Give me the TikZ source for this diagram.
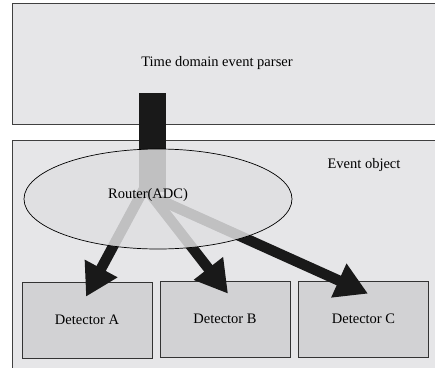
\documentclass[tikz,border=0pt]{standalone}
\usepackage{fontspec}
\setmainfont{Liberation Serif}
\usetikzlibrary{arrows.meta,calc}
\definecolor{bgbox}{RGB}{230,230,232}
\definecolor{detfill}{RGB}{210,210,212}
\definecolor{ellfill}{RGB}{224,224,226}
\tikzset{
  panel/.style={draw=black!75, line width=0.8pt, fill=bgbox, inner sep=0pt},
  detbox/.style={draw=black!80, line width=0.7pt, fill=detfill, minimum width=130pt, minimum height=76pt, font=\fontsize{14.5}{16}\selectfont, inner sep=0pt},
  flow/.style={line width=10.5pt, draw=black!90, -{Triangle[length=32pt,width=35pt]}},
  lbl/.style={font=\fontsize{14.5}{16}\selectfont, inner sep=0pt}
}
\begin{document}
\begin{tikzpicture}[x=1pt,y=-1pt]
\useasboundingbox (0,0) rectangle (435,367);
\fill[white] (0,0) rectangle (435,367);
\clip (0,0) rectangle (435,367);
% panels
\node[panel, minimum width=440pt, minimum height=121pt] (parser) at (232,63.5) {};
\node[lbl] (parsertxt) at (217,63) {Time domain event parser};
\node[panel, minimum width=440pt, minimum height=240pt] (event) at (232,260) {};
\node[lbl] (eventtxt) at (364,165) {Event object};
% detectors
\node[detbox] (detA) at (87,320) {Detector A};
\node[detbox] (detB) at (225,319) {Detector B};
\node[detbox] (detC) at (363.5,319) {Detector C};
% flow coordinates
\coordinate (hubA) at (145,187);
\coordinate (hubC) at (160,200);
\coordinate (tipA) at ($(detA.north)+(-1,15)$);
\coordinate (tipB) at ($(detB.north)+(3,13)$);
\coordinate (tipC) at ($(detC.north)+(4.5,13)$);
% vertical bar
\fill[black!90] (139,93) rectangle (166,192);
\draw[flow] (hubA) -- (tipA);
\draw[flow] (hubA) -- (tipB);
\draw[flow] (hubC) -- (tipC);
% router ellipse with translucent fill over the bars
\fill[ellfill, opacity=0.84] (158,199) ellipse [x radius=134, y radius=50];
\draw[black, line width=0.7pt] (158,199) ellipse [x radius=134, y radius=50];
\node[lbl] (router) at (148,195) {Router(ADC)};
\end{tikzpicture}
\end{document}
